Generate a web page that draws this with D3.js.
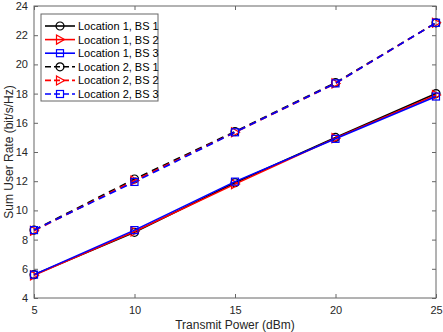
<!DOCTYPE html>
<html>
<head>
<meta charset="utf-8">
<script src="https://cdn.jsdelivr.net/npm/d3@7"></script>
<style>
  body { margin: 0; background: #fff; }
  text { font-family: "Liberation Sans", Arial, sans-serif; }
</style>
</head>
<body>
<div id="chart"></div>
<script>
// transmit power (dBm)
const powers = [5, 10, 15, 20, 25];

// sum user rate per series
const loc1bs1 = [5.6, 8.5, 11.9, 15.0, 18.0];
const loc1bs2 = [5.55, 8.55, 11.8, 14.95, 17.9];
const loc1bs3 = [5.6, 8.65, 11.97, 14.9, 17.8];
const loc2bs1 = [8.65, 12.15, 15.4, 18.75, 22.85];
const loc2bs2 = [8.6, 12.05, 15.35, 18.7, 22.85];
const loc2bs3 = [8.65, 11.95, 15.35, 18.7, 22.85];

const seriesNames = ['Location 1, BS 1', 'Location 1, BS 2', 'Location 1, BS 3',
                     'Location 2, BS 1', 'Location 2, BS 2', 'Location 2, BS 3'];

const xTicks = [5, 10, 15, 20, 25];
const yTicks = [4, 6, 8, 10, 12, 14, 16, 18, 20, 22, 24];

const series = [
  { name: seriesNames[0], values: loc1bs1, color: '#000000', marker: 'circle', dash: null },
  { name: seriesNames[1], values: loc1bs2, color: '#ff0000', marker: 'tri', dash: null },
  { name: seriesNames[2], values: loc1bs3, color: '#0000ff', marker: 'square', dash: null },
  { name: seriesNames[3], values: loc2bs1, color: '#000000', marker: 'circle', dash: '7,5' },
  { name: seriesNames[4], values: loc2bs2, color: '#ff0000', marker: 'tri', dash: '7,5' },
  { name: seriesNames[5], values: loc2bs3, color: '#0000ff', marker: 'square', dash: '7,5' }
];

const width = 443, height = 332;
const margin = { top: 6, right: 7, bottom: 34, left: 34 };
const iw = width - margin.left - margin.right;
const ih = height - margin.top - margin.bottom;

const svg = d3.select('#chart').append('svg')
  .attr('width', width)
  .attr('height', height);

const g = svg.append('g')
  .attr('transform', `translate(${margin.left},${margin.top})`);

const x = d3.scaleLinear().domain([5, 25]).range([0, iw]);
const y = d3.scaleLinear().domain([4, 24]).range([ih, 0]);

const axisColor = '#666';
const tickLen = 4;

// box
g.append('rect')
  .attr('width', iw).attr('height', ih)
  .attr('fill', 'none').attr('stroke', axisColor).attr('stroke-width', 1);

// bottom axis
g.append('g').attr('transform', `translate(0,${ih})`)
  .call(d3.axisBottom(x).tickValues(xTicks).tickSizeInner(-tickLen).tickSizeOuter(0).tickPadding(8));
// left axis
g.append('g')
  .call(d3.axisLeft(y).tickValues(yTicks).tickSizeInner(-tickLen).tickSizeOuter(0).tickPadding(6));
// top and right ticks
g.append('g')
  .call(d3.axisTop(x).tickValues(xTicks).tickSizeInner(-tickLen).tickSizeOuter(0).tickFormat(''));
g.append('g').attr('transform', `translate(${iw},0)`)
  .call(d3.axisRight(y).tickValues(yTicks).tickSizeInner(-tickLen).tickSizeOuter(0).tickFormat(''));

g.selectAll('.domain').remove();
g.selectAll('.tick line').attr('stroke', axisColor);
g.selectAll('.tick text').attr('fill', '#262626').style('font-size', '11px')
  .style('font-family', '"Liberation Sans", Arial, sans-serif');

// axis labels
svg.append('text')
  .attr('x', margin.left + iw / 2).attr('y', 329)
  .attr('text-anchor', 'middle').attr('fill', '#262626')
  .style('font-size', '12px')
  .text('Transmit Power (dBm)');

svg.append('text')
  .attr('transform', `translate(13,${margin.top + ih / 2}) rotate(-90)`)
  .attr('text-anchor', 'middle').attr('fill', '#262626')
  .style('font-size', '12px')
  .text('Sum User Rate (bit/s/Hz)');

function drawMarker(sel, type, color) {
  if (type === 'circle') {
    sel.append('circle').attr('r', 4)
      .attr('fill', 'none').attr('stroke', color).attr('stroke-width', 1.2);
  } else if (type === 'tri') {
    sel.append('path').attr('d', 'M-3.5,-4.5L4.5,0L-3.5,4.5Z')
      .attr('fill', 'none').attr('stroke', color).attr('stroke-width', 1.2);
  } else {
    sel.append('rect').attr('x', -3.5).attr('y', -3.5).attr('width', 7).attr('height', 7)
      .attr('fill', 'none').attr('stroke', color).attr('stroke-width', 1.2);
  }
}

const line = d3.line()
  .x((d, i) => x(powers[i]))
  .y(d => y(d));

series.forEach(s => {
  g.append('path')
    .datum(s.values)
    .attr('d', line)
    .attr('fill', 'none')
    .attr('stroke', s.color)
    .attr('stroke-width', 1.6)
    .attr('stroke-dasharray', s.dash);

  g.selectAll(null)
    .data(s.values)
    .enter()
    .append('g')
    .attr('transform', (d, i) => `translate(${x(powers[i])},${y(d)})`)
    .each(function () { drawMarker(d3.select(this), s.marker, s.color); });
});

// legend
const legend = svg.append('g').attr('transform', 'translate(41,14)');
legend.append('rect')
  .attr('width', 117).attr('height', 87)
  .attr('fill', '#fff').attr('stroke', axisColor).attr('stroke-width', 1);

series.forEach((s, i) => {
  const row = legend.append('g').attr('transform', `translate(0,${12 + i * 13.6})`);
  row.append('line')
    .attr('x1', 4).attr('x2', 34).attr('y1', 0).attr('y2', 0)
    .attr('stroke', s.color).attr('stroke-width', 1.6)
    .attr('stroke-dasharray', s.dash ? '6,3' : null);
  const m = row.append('g').attr('transform', 'translate(19,0)');
  drawMarker(m, s.marker, s.color);
  row.append('text')
    .attr('x', 37).attr('y', 4)
    .attr('fill', '#000')
    .style('font-size', '11px')
    .text(s.name);
});
</script>
</body>
</html>
